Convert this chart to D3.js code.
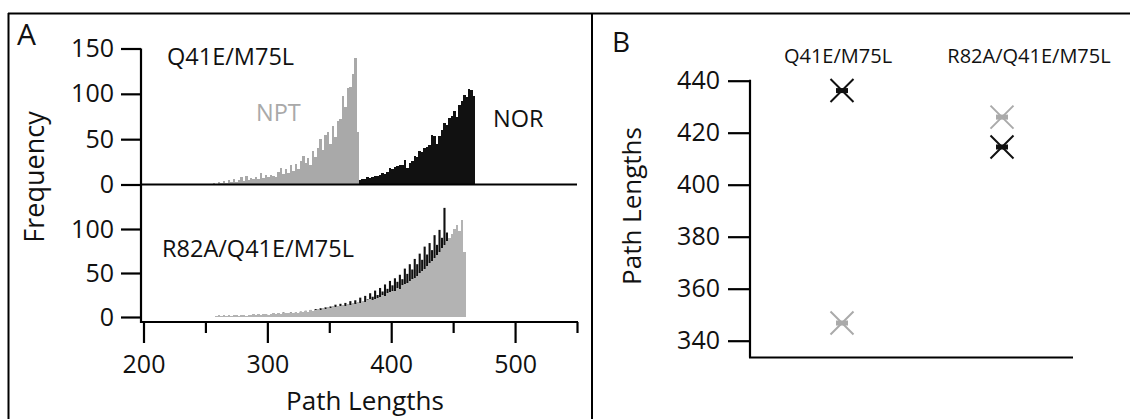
<!DOCTYPE html>
<html>
<head>
<meta charset="utf-8">
<script src="https://cdn.jsdelivr.net/npm/d3@7"></script>
<style>
  html, body { margin: 0; padding: 0; background: #fff; }
  svg { display: block; font-family: "Open Sans", "Noto Sans", sans-serif; }
</style>
</head>
<body>
<svg id="chart" width="1130" height="419"></svg>
<script>
// ---------------- DATA ----------------
const binWidth = 2;
// Panel A, top (Q41E/M75L)
const topNptStart = 256;
const topNpt = [2,1,3,2,4,2,5,3,6,3,5,8,4,9,5,7,6,8,6,13,7,11,8,10,9,8,14,18,12,17,
  13,21,15,23,17,26,31,24,29,22,37,30,40,50,38,55,58,45,64,52,70,72,98,85,106,108,122,140,58];
const topNorStart = 374;
const topNor = [5,6,6,8,7,8,9,9,10,13,12,14,18,17,19,20,22,21,27,18,24,26,31,30,37,36,40,41,44,55,
  53,45,53,60,68,66,73,76,81,75,88,92,99,96,105,104,98];
// Panel A, bottom (R82A/Q41E/M75L)
const botNptStart = 258;
const botNpt = [1,2,1,2,1,2,1,2,2,1,2,2,1,2,2,3,2,3,2,3,3,2,3,4,3,4,3,5,4,5,
  4,5,6,5,6,6,7,6,8,7,8,9,8,10,9,11,10,12,11,13,12,14,13,15,14,16,15,17,16,18,
  17,19,20,19,21,22,23,25,24,27,28,30,29,33,32,36,37,39,41,43,44,47,50,52,55,58,61,64,67,70,
  74,78,82,86,90,94,100,104,98,110,74];
const botNorStart = 262;
const botNor = [1,0,1,1,0,1,1,0,1,2,1,1,2,1,2,3,1,2,3,2,
  3,4,2,4,3,5,3,4,5,3, 5,4,6,5,7,5,8,6,9,7, 10,8,11,9,12,10,14,11,15,13,
  16,13,18,15,19,16,22,18,24,20, 27,23,30,25,33,29,37,32,41,36, 44,40,48,43,55,49,60,54,66,60,
  72,65,80,71,84,76,93,82,99,90, 124,96];
const xTicksMajor = [200,300,400,500];
const xTicksMinor = [250,350,450,550];
const yTicksTop = [0,50,100,150];
const yTicksBot = [0,50,100];

// Panel B
const categories = ["Q41E/M75L","R82A/Q41E/M75L"];
const norMean = [436.2, 414.5];
const nptMean = [346.8, 426.0];
const yTicksB = [340,360,380,400,420,440];

// ---------------- DRAW ----------------
const svg = d3.select("#chart");
const GRAY = "#a9a9a9";
const BLACK = "#111";

// frame
svg.append("line").attr("x1",8).attr("x2",1130).attr("y1",13.5).attr("y2",13.5).attr("stroke","#000").attr("stroke-width",2);
svg.append("line").attr("x1",8.5).attr("x2",8.5).attr("y1",13).attr("y2",419).attr("stroke","#000").attr("stroke-width",2);
svg.append("line").attr("x1",592).attr("x2",592).attr("y1",13).attr("y2",419).attr("stroke","#000").attr("stroke-width",2);

// Panel A scales
const xA = d3.scaleLinear().domain([200,550]).range([143.5,577]);
const yTop = d3.scaleLinear().domain([0,150]).range([184.5,48.5]);
const yBot = d3.scaleLinear().domain([0,100]).range([317,229]);
const axisY = 322;

// solid (seamless) bars snapped to whole pixels
function solidBars(g, start, vals, y, color) {
  const data = vals.map((v,i)=>({b:start+i*binWidth, v}));
  g.selectAll(null).data(data).join("rect")
    .attr("x", d => Math.round(xA(d.b)))
    .attr("width", d => Math.round(xA(d.b+binWidth)) - Math.round(xA(d.b)))
    .attr("y", d => y(d.v))
    .attr("height", d => y(0)-y(d.v))
    .attr("shape-rendering","crispEdges")
    .attr("fill", color);
}
// thin spike bars
function spikeBars(g, start, vals, y, color, frac) {
  const data = vals.map((v,i)=>({b:start+i*binWidth, v}));
  g.selectAll(null).data(data).join("rect")
    .attr("x", d => xA(d.b) + (xA(d.b+binWidth)-xA(d.b))*(1-frac)/2)
    .attr("width", d => (xA(d.b+binWidth)-xA(d.b))*frac)
    .attr("y", d => y(d.v))
    .attr("height", d => y(0)-y(d.v))
    .attr("fill", color);
}

const gA = svg.append("g");
solidBars(gA.append("g"), topNptStart, topNpt, yTop, GRAY);
solidBars(gA.append("g"), topNorStart, topNor, yTop, BLACK);
spikeBars(gA.append("g"), botNorStart, botNor, yBot, BLACK, 0.85);
solidBars(gA.append("g"), botNptStart, botNpt, yBot, "#b3b3b3");

// top baseline
gA.append("line").attr("x1",141).attr("x2",xA(550)).attr("y1",yTop(0)).attr("y2",yTop(0))
  .attr("stroke","#000").attr("stroke-width",2.2);
// vertical axis line
gA.append("line").attr("x1",141).attr("x2",141).attr("y1",yTop(150)).attr("y2",axisY+1)
  .attr("stroke","#000").attr("stroke-width",2.2);
// bottom axis line
gA.append("line").attr("x1",140).attr("x2",xA(550)+1).attr("y1",axisY).attr("y2",axisY)
  .attr("stroke","#000").attr("stroke-width",2.2);

function styleAxis(g) {
  g.select(".domain").remove();
  g.selectAll(".tick line").attr("stroke","#000").attr("stroke-width",2.2);
  g.selectAll(".tick text").attr("fill","#111").attr("font-size",25).attr("font-family","Open Sans");
}
gA.append("g").attr("transform","translate(141,0)")
  .call(d3.axisLeft(yTop).tickValues(yTicksTop).tickSize(20).tickPadding(7).tickFormat(d3.format("d")))
  .call(styleAxis);
gA.append("g").attr("transform","translate(141,0)")
  .call(d3.axisLeft(yBot).tickValues(yTicksBot).tickSize(20).tickPadding(7).tickFormat(d3.format("d")))
  .call(styleAxis);
gA.append("g").attr("transform",`translate(0,${axisY})`)
  .call(d3.axisBottom(xA).tickValues(xTicksMajor).tickSize(21).tickPadding(12).tickFormat(d3.format("d")))
  .call(styleAxis);
gA.append("g").attr("transform",`translate(0,${axisY})`)
  .call(d3.axisBottom(xA).tickValues(xTicksMinor).tickSize(11).tickFormat(""))
  .call(styleAxis);

// Panel A texts
const txt = (x,y,s,size,color,anchor) => svg.append("text").attr("x",x).attr("y",y).text(s)
  .attr("font-size",size).attr("fill",color||"#111").attr("text-anchor",anchor||"start");
txt(17,45,"A",30);
txt(167,65,"Q41E/M75L",23.5);
txt(256,121,"NPT",23.5,GRAY);
txt(493,127,"NOR",23.5);
txt(162,257,"R82A/Q41E/M75L",23.5);
txt(365,410,"Path Lengths",26,"#111","middle");
svg.append("text").attr("transform","translate(44,177) rotate(-90)").attr("text-anchor","middle")
  .attr("font-size",27).attr("fill","#111").text("Frequency");

// ---------------- Panel B ----------------
const xB = d3.scalePoint().domain(categories).range([842,1002]);
const yB = d3.scaleLinear().domain([340,440]).range([340.7,80.7]);
const gB = svg.append("g");
gB.append("line").attr("x1",750).attr("x2",750).attr("y1",yB(440)-1).attr("y2",357.5)
  .attr("stroke","#000").attr("stroke-width",2.2);
gB.append("line").attr("x1",749).attr("x2",1073).attr("y1",357.5).attr("y2",357.5)
  .attr("stroke","#000").attr("stroke-width",2.2);
gB.append("g").attr("transform","translate(750,0)")
  .call(d3.axisLeft(yB).tickValues(yTicksB).tickSize(22).tickPadding(8).tickFormat(d3.format("d")))
  .call(styleAxis);

txt(612,52,"B",28);
svg.append("text").attr("transform","translate(641,206) rotate(-90)").attr("text-anchor","middle")
  .attr("font-size",26).attr("fill","#111").text("Path Lengths");
const labelShift = [-4, 27];
categories.forEach((c,i)=>{
  txt(xB(c)+labelShift[i],63,c,20,"#111","middle");
});

function cross(g, x, y, color) {
  const s = 11.5;
  g.append("path").attr("d",`M${x-s},${y-s}L${x+s},${y+s}M${x-s},${y+s}L${x+s},${y-s}`)
    .attr("stroke",color).attr("stroke-width",2).attr("fill","none");
  g.append("rect").attr("x",x-6).attr("y",y-2.5).attr("width",12).attr("height",5).attr("fill",color);
}
categories.forEach((c,i)=>{
  cross(gB, xB(c), yB(nptMean[i]), "#aaaaaa");
  cross(gB, xB(c), yB(norMean[i]), BLACK);
});
</script>
</body>
</html>
